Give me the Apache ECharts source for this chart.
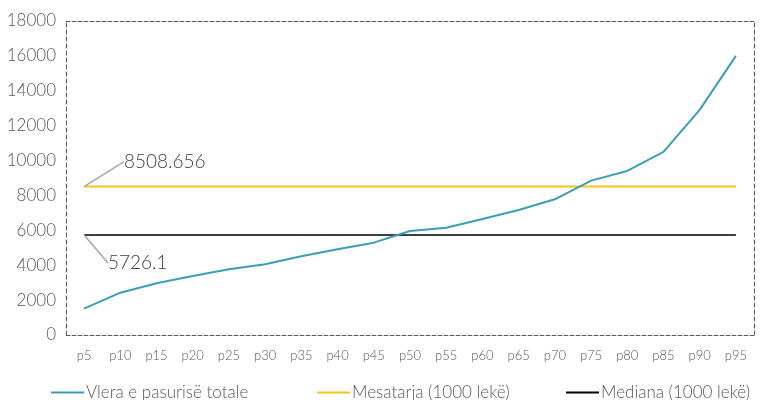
<!DOCTYPE html>
<html>
<head>
<meta charset="utf-8">
<script src="https://cdn.jsdelivr.net/npm/echarts@6/dist/echarts.min.js"></script>
<style>
  html, body { margin: 0; padding: 0; background: #fff; }
  #chart { width: 763px; height: 400px; }
</style>
</head>
<body>
<div id="chart"></div>
<script>
// Percentile categories
const categories = ['p5', 'p10', 'p15', 'p20', 'p25', 'p30', 'p35', 'p40', 'p45', 'p50',
  'p55', 'p60', 'p65', 'p70', 'p75', 'p80', 'p85', 'p90', 'p95'];

// Total wealth value by percentile (1000 lekë)
const wealthValues = [1510, 2427, 2963, 3383, 3770, 4053, 4520, 4913, 5293, 5963,
  6153, 6651, 7167, 7781, 8848, 9404, 10493, 12902, 15998];

// Mean and median, drawn as flat reference lines
const meanValues = [8508.656, 8508.656, 8508.656, 8508.656, 8508.656, 8508.656, 8508.656,
  8508.656, 8508.656, 8508.656, 8508.656, 8508.656, 8508.656, 8508.656, 8508.656,
  8508.656, 8508.656, 8508.656, 8508.656];
const medianValues = [5726.1, 5726.1, 5726.1, 5726.1, 5726.1, 5726.1, 5726.1, 5726.1,
  5726.1, 5726.1, 5726.1, 5726.1, 5726.1, 5726.1, 5726.1, 5726.1, 5726.1, 5726.1, 5726.1];

// Value-axis range and step
const Y_MIN = 0;
const Y_MAX = 18000;
const Y_STEP = 2000;

const seriesNames = ['Vlera e pasurisë totale', 'Mesatarja (1000 lekë)', 'Mediana (1000 lekë)'];
const colors = ['#3a9fb5', '#fcc21b', '#000000'];

const FONT = 'Lato, "Open Sans", sans-serif';
const TEXT = '#595959';
// dashed frame around the plot
const dashed = () => ({ type: [4, 3], color: '#595959', width: 1 });
const frameUnder = () => ({ color: '#c4c4c4', width: 1 });
const LINE_ICON = 'path://M0,0 L33,0 L33,2 L0,2 Z';

// Only the first point of a reference line carries its value label
function firstLabelled(values) {
  return values.map((v, i) => i === 0 ? {
    value: v,
    label: { show: true },
    labelLine: { show: true }
  } : v);
}

// One legend block per series so each entry sits at its own spot
function legendFor(name, left) {
  return {
    left: left,
    top: 379,
    itemWidth: 33,
    itemHeight: 2,
    textStyle: { fontFamily: FONT, fontSize: 17, fontWeight: 300, color: TEXT, padding: [0, 0, 0, -3] },
    data: [{ name: name, icon: LINE_ICON }]
  };
}

const refLabel = {
  show: false,
  fontFamily: FONT,
  fontSize: 19,
  fontWeight: 300,
  color: '#404040',
  padding: [0, 0, 0, 6],
  formatter: p => String(p.value)
};
const refLabelLine = { show: false, length2: 6, lineStyle: { color: '#a6a6a6', width: 1.5 } };

const chart = echarts.init(document.getElementById('chart'), null, { renderer: 'canvas' });

chart.setOption({
  animation: false,
  backgroundColor: '#fff',
  grid: { left: 66, right: 9, top: 21, bottom: 65 },
  legend: [
    legendFor(seriesNames[0], 46),
    legendFor(seriesNames[1], 312),
    legendFor(seriesNames[2], 561)
  ],
  xAxis: [{
    type: 'category',
    data: categories,
    position: 'bottom',
    axisLine: { show: true, onZero: false, lineStyle: frameUnder() },
    axisTick: { show: false },
    axisLabel: { fontFamily: FONT, fontSize: 13, fontWeight: 300, color: TEXT, margin: 14 }
  }, {
    type: 'category',
    data: categories,
    position: 'top',
    axisLine: { show: true, onZero: false, lineStyle: frameUnder() },
    axisTick: { show: false },
    axisLabel: { show: false }
  }],
  yAxis: [{
    type: 'value',
    min: Y_MIN,
    max: Y_MAX,
    interval: Y_STEP,
    position: 'left',
    axisLine: { show: true, onZero: false, lineStyle: dashed() },
    axisTick: { show: false },
    splitLine: { show: false },
    axisLabel: { fontFamily: FONT, fontSize: 17, fontWeight: 300, color: TEXT, margin: 10, formatter: v => String(v) }
  }, {
    type: 'value',
    min: Y_MIN,
    max: Y_MAX,
    interval: Y_STEP,
    position: 'right',
    axisLine: { show: true, onZero: false, lineStyle: dashed() },
    axisTick: { show: false },
    splitLine: { show: false },
    axisLabel: { show: false }
  }],
  series: [{
    name: seriesNames[0],
    type: 'line',
    data: wealthValues,
    symbol: 'none',
    clip: false,
    lineStyle: { color: colors[0], width: 2 },
    itemStyle: { color: colors[0] },
    // dashes along the bottom and top edges of the frame
    markLine: {
      silent: true,
      symbol: ['none', 'none'],
      label: { show: false },
      emphasis: { disabled: true },
      lineStyle: { type: 'dashed', color: '#595959', width: 1, opacity: 1 },
      data: [{ yAxis: Y_MIN }, { yAxis: Y_MAX }]
    },
    z: 3
  }, {
    name: seriesNames[1],
    type: 'line',
    data: firstLabelled(meanValues),
    symbol: 'circle',
    symbolSize: 0,
    showSymbol: true,
    lineStyle: { color: colors[1], width: 2 },
    itemStyle: { color: colors[1] },
    label: refLabel,
    labelLine: refLabelLine,
    labelLayout: p => ({ x: 118, y: p.rect.y - 25, align: 'left', verticalAlign: 'middle' }),
    z: 2
  }, {
    name: seriesNames[2],
    type: 'line',
    data: firstLabelled(medianValues),
    symbol: 'circle',
    symbolSize: 0,
    showSymbol: true,
    lineStyle: { color: colors[2], width: 1.5 },
    itemStyle: { color: colors[2] },
    label: refLabel,
    labelLine: refLabelLine,
    labelLayout: p => ({ x: 102, y: p.rect.y + 28, align: 'left', verticalAlign: 'middle' }),
    z: 2
  }]
});
</script>
</body>
</html>
